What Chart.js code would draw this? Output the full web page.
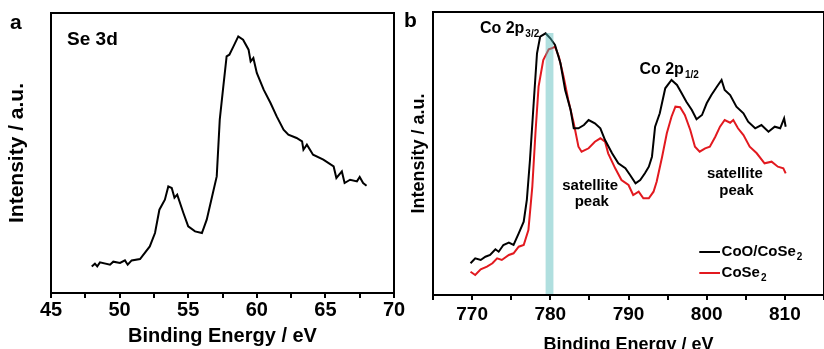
<!DOCTYPE html>
<html>
<head>
<meta charset="utf-8">
<script src="https://cdn.jsdelivr.net/npm/chart.js@4.4.0/dist/chart.umd.min.js"></script>
<style>
html, body { margin: 0; padding: 0; background: #fff; overflow: hidden; width: 824px; height: 349px; }
canvas { position: absolute; top: 0; }
</style>
</head>
<body>
<canvas id="se" width="412" height="349" style="left:0"></canvas>
<canvas id="co" width="430" height="356" style="left:400px"></canvas>
<script>
// panel a: Se 3d
const seEnergy = [47.97, 48.2, 48.37, 48.57, 49.3, 49.54, 50.03, 50.39, 50.59, 50.88, 51.49, 52.2, 52.58, 52.9, 53.3, 53.55, 53.8, 54.0, 54.2, 54.65, 55.0, 55.5, 56.0, 56.35, 56.8, 57.08, 57.3, 57.56, 57.8, 58.0, 58.3, 58.65, 59.0, 59.4, 59.55, 59.75, 60.0, 60.5, 61.0, 61.45, 61.95, 62.3, 62.9, 63.3, 63.4, 63.65, 64.1, 64.85, 65.6, 65.8, 66.2, 66.4, 66.8, 67.3, 67.5, 67.75, 68.0];
const seIntensity = [26.6, 29.3, 26.6, 30.6, 28.3, 31.3, 30, 32.6, 28.3, 32.6, 34, 46.6, 60, 83.3, 93.3, 106.6, 105, 95.3, 98.3, 80, 66.6, 61.6, 60, 73.3, 100, 116.6, 173.3, 206.6, 236.6, 238.3, 246.6, 256.6, 253.3, 243.3, 231.6, 235, 220, 203.3, 190, 176.6, 163.3, 158.3, 155, 151.6, 143.3, 148.3, 138.3, 133.3, 126.6, 115, 121.6, 110, 113.3, 111.6, 116, 110, 107.3];

// panel b: Co 2p
const coOEnergy = [769.8, 770.4, 771.1, 771.7, 772.3, 772.98, 773.4, 774.0, 774.7, 775.3, 775.96, 776.6, 777.0, 777.4, 777.9, 778.3, 778.7, 779.4, 780.0, 780.6, 781.3, 781.9, 782.6, 783.0, 783.6, 784.3, 784.9, 785.7, 786.4, 787.0, 787.9, 788.7, 789.6, 790.2, 790.9, 791.5, 792.1, 792.6, 793.0, 793.4, 794.0, 794.7, 795.5, 796.2, 796.8, 797.4, 798.1, 798.7, 799.4, 800.0, 800.6, 801.3, 801.9, 802.3, 803.0, 803.8, 804.7, 805.3, 806.2, 807.0, 807.9, 808.7, 809.4, 809.9, 810.1];
const coOIntensity = [31.7, 36.7, 35, 38.3, 40, 45.7, 43.3, 50, 52.3, 50, 61.7, 73.3, 95, 135, 195, 241.7, 258.3, 261.7, 256.7, 250, 231.7, 205, 185, 166.7, 166.7, 170, 175, 171.7, 166.7, 155, 141.7, 131.7, 126.7, 120, 111.7, 115, 121.7, 128.3, 138.3, 168.3, 181.7, 206.7, 215, 210, 201.7, 193.3, 185, 175.7, 180, 191.7, 200, 208.3, 215, 205, 200, 188.3, 181.7, 173.3, 166.7, 170, 163.3, 168.3, 166.7, 176.7, 168.3];
const coSeEnergy = [769.8, 770.4, 771.1, 771.9, 772.6, 773.2, 773.8, 774.7, 775.3, 775.96, 776.6, 777.2, 777.7, 778.1, 778.5, 779.1, 779.8, 780.2, 780.6, 781.1, 781.7, 782.3, 783.0, 783.6, 784.0, 784.9, 785.7, 786.4, 787.0, 787.4, 788.3, 789.1, 790.0, 790.6, 791.3, 791.9, 792.6, 793.2, 793.6, 794.3, 794.9, 795.5, 796.0, 796.6, 797.2, 797.9, 798.5, 799.1, 799.8, 800.4, 801.1, 801.7, 802.3, 803.0, 803.4, 804.0, 804.7, 805.5, 806.4, 807.4, 808.3, 809.1, 809.8, 810.1];
const coSeIntensity = [23.3, 20, 25.7, 28.3, 31.7, 36.7, 35, 40, 41.7, 48.3, 50, 65, 108.3, 161.7, 208.3, 235, 245.7, 246.7, 248.3, 238.3, 218.3, 195, 171.7, 148.3, 143.3, 146.7, 153.3, 156.7, 153.3, 141.7, 126.7, 115, 110, 100, 103.3, 96.7, 96.7, 103.3, 113.3, 138.3, 161.7, 178.3, 188.3, 187.7, 180, 165, 148.3, 143.3, 146.7, 148.3, 158.3, 168.3, 175, 172.3, 175, 166.7, 160, 148.3, 141.7, 131.7, 133.3, 128.3, 126.7, 121.7];

const seriesNames = ['CoO/CoSe', 'CoSe'];
const bandEnergy = [779.4, 780.4];
const bandTop = 262;

Chart.defaults.font.family = '"Liberation Sans", Arial, sans-serif';
Chart.defaults.color = '#000';

const FONT = '"Liberation Sans", Arial, sans-serif';

function pts(xs, ys) {
    return xs.map((x, i) => ({ x: x, y: ys[i] }));
}

function textSub(ctx, main, sub, x, y, size, subSize, drop) {
    ctx.font = 'bold ' + size + 'px ' + FONT;
    ctx.fillText(main, x, y);
    const w = ctx.measureText(main).width;
    if (sub) {
        ctx.font = 'bold ' + subSize + 'px ' + FONT;
        ctx.fillText(sub, x + w + 1, y + drop);
    }
}

const boxPlugin = {
    id: 'box',
    afterDraw(chart) {
        const a = chart.chartArea, ctx = chart.ctx;
        ctx.save();
        ctx.strokeStyle = '#000';
        ctx.lineWidth = 2;
        ctx.strokeRect(a.left, a.top, a.right - a.left, a.bottom - a.top);
        ctx.restore();
    }
};

function xAxis(min, max, step, tickSize, titleSize, pad, titlePad, height) {
    return {
        type: 'linear', min: min, max: max,
        afterFit: s => { s.height = height; },
        ticks: {
            stepSize: step, autoSkip: false, maxRotation: 0, padding: pad,
            font: { size: tickSize, weight: 'bold' },
            callback: v => (v % 10 === 0 || (max < 100 && v % 5 === 0)) ? v : ''
        },
        grid: { drawOnChartArea: false, drawTicks: true, tickLength: 5, color: '#000', lineWidth: 2 },
        border: { display: true, color: '#000', width: 2 },
        title: { display: true, text: 'Binding Energy / eV', font: { size: titleSize, weight: 'bold' }, padding: { top: 0, bottom: titlePad } }
    };
}

function yAxis(max, width, titleSize, pad) {
    return {
        min: 0, max: max,
        afterFit: s => { s.width = width; },
        ticks: { display: false },
        grid: { display: false },
        border: { display: true, color: '#000', width: 2 },
        title: { display: true, text: 'Intensity / a.u.', font: { size: titleSize, weight: 'bold' }, padding: { top: pad, bottom: 0 } }
    };
}

new Chart(document.getElementById('se'), {
    type: 'line',
    data: {
        datasets: [{
            data: pts(seEnergy, seIntensity),
            borderColor: '#000', borderWidth: 2, pointRadius: 0, tension: 0, fill: false
        }]
    },
    options: {
        responsive: false, animation: false,
        layout: { padding: { left: 0, right: 18, top: 13, bottom: 0 } },
        plugins: { legend: { display: false }, tooltip: { enabled: false } },
        scales: { x: xAxis(45, 70, 2.5, 20, 20, 0, 1, 56), y: yAxis(280, 51, 21, 5) }
    },
    plugins: [boxPlugin, {
        id: 'labelsA',
        afterDraw(chart) {
            const ctx = chart.ctx, sx = chart.scales.x, sy = chart.scales.y;
            ctx.save();
            ctx.fillStyle = '#000';
            ctx.textAlign = 'left';
            ctx.textBaseline = 'alphabetic';
            textSub(ctx, 'a', '', 10, 29, 21, 0, 0);
            textSub(ctx, 'Se 3d', '', sx.getPixelForValue(46.17), sy.getPixelForValue(248), 19, 0, 0);
            ctx.restore();
        }
    }]
});

new Chart(document.getElementById('co'), {
    type: 'line',
    data: {
        datasets: [{
            label: seriesNames[0],
            data: pts(coOEnergy, coOIntensity),
            borderColor: '#000', borderWidth: 2, pointRadius: 0, tension: 0, fill: false
        }, {
            label: seriesNames[1],
            data: pts(coSeEnergy, coSeIntensity),
            borderColor: '#e2191f', borderWidth: 2, pointRadius: 0, tension: 0, fill: false
        }]
    },
    options: {
        responsive: false, animation: false,
        layout: { padding: { left: 0, right: 6, top: 12, bottom: 0 } },
        plugins: { legend: { display: false }, tooltip: { enabled: false } },
        scales: { x: xAxis(765, 815, 5, 19, 18, 3, 0, 61), y: yAxis(283, 33, 18, 8) }
    },
    plugins: [boxPlugin, {
        id: 'labelsB',
        afterDatasetsDraw(chart) {
            const ctx = chart.ctx, sx = chart.scales.x, sy = chart.scales.y;
            const x0 = sx.getPixelForValue(bandEnergy[0]), x1 = sx.getPixelForValue(bandEnergy[1]);
            const yt = sy.getPixelForValue(bandTop), yb = sy.getPixelForValue(0);
            ctx.save();
            ctx.fillStyle = 'rgba(80,185,185,0.45)';
            ctx.fillRect(x0, yt, x1 - x0, yb - yt);
            ctx.restore();
        },
        afterDraw(chart) {
            const ctx = chart.ctx, sx = chart.scales.x, sy = chart.scales.y;
            const X = v => sx.getPixelForValue(v), Y = v => sy.getPixelForValue(v);
            ctx.save();
            ctx.fillStyle = '#000';
            ctx.textAlign = 'left';
            ctx.textBaseline = 'alphabetic';
            textSub(ctx, 'b', '', 4, 27, 21, 0, 0);
            textSub(ctx, 'Co 2p', '3/2', X(771.0), Y(262.5), 16, 10, 4);
            textSub(ctx, 'Co 2p', '1/2', X(791.4), Y(221), 16, 10, 4);

            ctx.textAlign = 'center';
            ctx.textBaseline = 'middle';
            ctx.font = 'bold 15px ' + FONT;
            ctx.fillText('satellite', X(785.1), Y(109));
            ctx.fillText('peak', X(785.3), Y(93));
            ctx.fillText('satellite', X(803.6), Y(121));
            ctx.fillText('peak', X(803.8), Y(104));

            // legend
            const legY = [43, 22];
            ctx.textAlign = 'left';
            chart.data.datasets.forEach((ds, i) => {
                ctx.strokeStyle = ds.borderColor;
                ctx.lineWidth = 2;
                ctx.beginPath();
                ctx.moveTo(X(799.05), Y(legY[i]));
                ctx.lineTo(X(801.7), Y(legY[i]));
                ctx.stroke();
                textSub(ctx, ds.label, '2', X(801.9), Y(legY[i]), 15, 10, 5);
            });
            ctx.restore();
        }
    }]
});
</script>
</body>
</html>
